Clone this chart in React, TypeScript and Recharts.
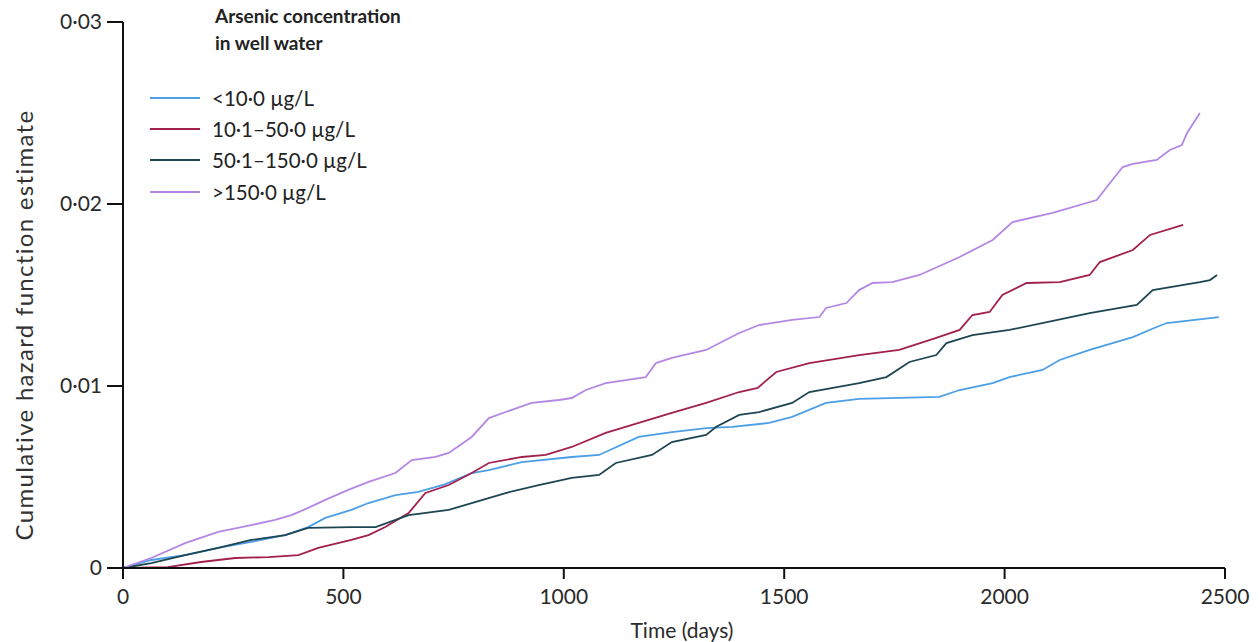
import React from "react";
import { LineChart, Line, XAxis, YAxis, Legend } from "recharts";

// [day, cumulative hazard]
const lowArsenic = [
  [0, 0], [64, 0.00044], [141, 0.00071], [216, 0.0011], [291, 0.00143], [368, 0.00181],
  [420, 0.00225], [459, 0.00275], [518, 0.00319], [557, 0.00357], [618, 0.00401],
  [670, 0.00418], [730, 0.0046], [791, 0.00522], [830, 0.00538], [905, 0.00582],
  [1018, 0.0061], [1080, 0.00621], [1170, 0.0072], [1245, 0.00747], [1323, 0.00769],
  [1382, 0.00775], [1466, 0.00797], [1518, 0.0083], [1595, 0.00907], [1670, 0.00929],
  [1852, 0.0094], [1898, 0.00978], [1973, 0.01016], [2011, 0.01049], [2086, 0.01088],
  [2125, 0.01143], [2193, 0.01198], [2291, 0.01269], [2345, 0.01324], [2368, 0.01346],
  [2486, 0.01379],
];
const midArsenic = [
  [0, 0], [102, 0.00005], [177, 0.00033], [255, 0.00055], [330, 0.0006], [398, 0.00071],
  [443, 0.0011], [518, 0.00154], [557, 0.00181], [595, 0.00225], [648, 0.00302],
  [686, 0.00412], [739, 0.00456], [791, 0.00522], [830, 0.00577], [905, 0.0061],
  [959, 0.00621], [1018, 0.00665], [1095, 0.00742], [1170, 0.00797], [1245, 0.00852],
  [1323, 0.00907], [1398, 0.00967], [1440, 0.0099], [1482, 0.01077], [1557, 0.01126],
  [1670, 0.0117], [1761, 0.01198], [1845, 0.01264], [1898, 0.01308], [1927, 0.0139],
  [1966, 0.01407], [1995, 0.015], [2050, 0.01566], [2125, 0.01571], [2193, 0.0161],
  [2216, 0.01681], [2291, 0.01747], [2330, 0.0183], [2405, 0.01885],
];
const highArsenic = [
  [0, 0], [64, 0.00027], [141, 0.00071], [216, 0.0011], [291, 0.00154], [368, 0.00181],
  [420, 0.0022], [518, 0.00225], [573, 0.00225], [648, 0.00291], [739, 0.00319],
  [791, 0.00357], [868, 0.00412], [943, 0.00456], [1018, 0.00495], [1080, 0.00511],
  [1118, 0.00577], [1200, 0.00621], [1245, 0.00692], [1323, 0.00731], [1345, 0.00775],
  [1398, 0.00841], [1443, 0.00857], [1518, 0.00907], [1557, 0.00967], [1670, 0.01016],
  [1732, 0.01049], [1784, 0.01132], [1845, 0.0117], [1868, 0.01236], [1927, 0.0128],
  [2011, 0.01308], [2193, 0.01401], [2300, 0.01445], [2336, 0.01527], [2443, 0.01571],
  [2466, 0.01582], [2482, 0.0161],
];
const veryHighArsenic = [
  [0, 0], [64, 0.00055], [141, 0.00137], [216, 0.00198], [291, 0.00236], [345, 0.00264],
  [382, 0.00291], [420, 0.0033], [459, 0.00374], [511, 0.00429], [557, 0.00473],
  [618, 0.00522], [655, 0.00593], [709, 0.0061], [739, 0.00632], [791, 0.0072],
  [830, 0.00824], [868, 0.00857], [927, 0.00907], [989, 0.00923], [1018, 0.00934],
  [1050, 0.00978], [1095, 0.01016], [1186, 0.01049], [1209, 0.01126], [1245, 0.01154],
  [1323, 0.01198], [1398, 0.01291], [1443, 0.01335], [1518, 0.01363], [1580, 0.01379],
  [1595, 0.01429], [1641, 0.01456], [1670, 0.01527], [1700, 0.01566], [1745, 0.01571],
  [1807, 0.0161], [1898, 0.01709], [1973, 0.01802], [2018, 0.01901], [2109, 0.01951],
  [2209, 0.02022], [2239, 0.02115], [2268, 0.02203], [2291, 0.0222], [2345, 0.02242],
  [2375, 0.02297], [2402, 0.02324], [2414, 0.0239], [2443, 0.025],
];

const seriesNames = ["<10·0 µg/L", "10·1–50·0 µg/L", "50·1–150·0 µg/L", ">150·0 µg/L"];
const seriesColors = ["#4c9fe6", "#a1204c", "#1e4652", "#b487e4"];
const xTicks = [0, 500, 1000, 1500, 2000, 2500];
const yTicks = [0, 0.01, 0.02, 0.03];

const toRows = (pts) => pts.map(([day, h]) => ({ day, h }));
const allSeries = [lowArsenic, midArsenic, highArsenic, veryHighArsenic];

const FONT = "Lato, 'Open Sans', sans-serif";

const LegendBox = ({ payload }) => {
  const items = [...(payload || [])].sort(
    (a, b) => seriesNames.indexOf(a.value) - seriesNames.indexOf(b.value)
  );
  return (
    <div style={{ fontFamily: FONT, color: "#222" }}>
      <div style={{ marginLeft: 73, fontWeight: 700, fontSize: 19, lineHeight: "27px" }}>
        Arsenic concentration
        <br />
        in well water
      </div>
      <div style={{ marginTop: 26 }}>
        {items.map((p) => (
          <div key={p.value} style={{ display: "flex", alignItems: "center", height: 31.3 }}>
            <svg width={62} height={6} style={{ marginLeft: 8 }}>
              <line x1={0} y1={3} x2={50} y2={3} stroke={p.color} strokeWidth={2} />
            </svg>
            <span style={{ fontSize: 20.5 }}>{p.value}</span>
          </div>
        ))}
      </div>
    </div>
  );
};

const fmtY = (v) => (v === 0 ? "0" : v.toFixed(2).replace(".", "·"));

export default function App() {
  return (
    <div style={{ width: 1243, height: 634, background: "#fff" }}>
      <LineChart width={1243} height={634} margin={{ top: 14, right: 26, bottom: 0, left: 0 }}>
        <XAxis
          dataKey="day"
          type="number"
          domain={[0, 2500]}
          ticks={xTicks}
          allowDataOverflow
          height={74}
          tickSize={11}
          tickMargin={10}
          stroke="#111"
          strokeWidth={2}
          tick={{ fontSize: 21, fill: "#2a2a2a", fontFamily: FONT }}
          label={{ value: "Time (days)", position: "insideBottom", offset: 4, dx: 8, fontSize: 21, fill: "#2a2a2a", fontFamily: FONT }}
        />
        <YAxis
          type="number"
          domain={[0, 0.03]}
          ticks={yTicks}
          width={115}
          tickSize={16}
          tickMargin={5}
          tickFormatter={fmtY}
          stroke="#111"
          strokeWidth={2}
          tick={{ fontSize: 21, fill: "#2a2a2a", fontFamily: FONT }}
          label={{ value: "Cumulative hazard function estimate", angle: -90, position: "center", dx: -41, dy: 30, fontSize: 24, letterSpacing: 1.3, fill: "#333", fontFamily: FONT }}
        />
        <Legend
          layout="horizontal"
          verticalAlign="middle"
          align="center"
          content={LegendBox}
          wrapperStyle={{ position: "absolute", left: 134, top: -6, width: 360 }}
        />
        {allSeries.map((pts, i) => (
          <Line
            key={seriesNames[i]}
            data={toRows(pts)}
            dataKey="h"
            name={seriesNames[i]}
            stroke={seriesColors[i]}
            strokeWidth={1.8}
            dot={false}
            type="linear"
            isAnimationActive={false}
          />
        ))}
      </LineChart>
    </div>
  );
}
